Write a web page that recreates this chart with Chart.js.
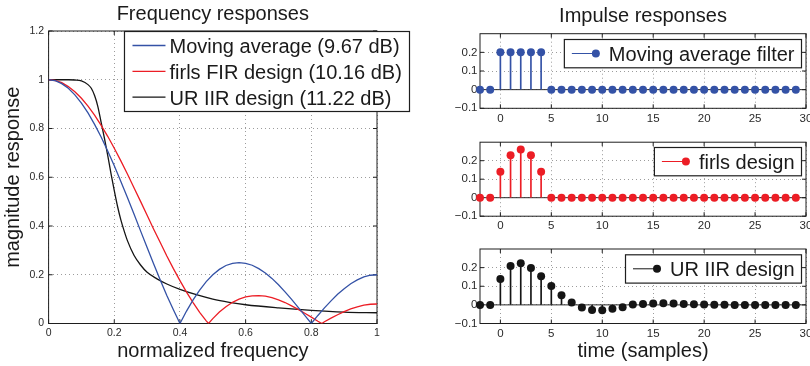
<!DOCTYPE html>
<html>
<head>
<meta charset="utf-8">
<script src="https://cdn.jsdelivr.net/npm/chart.js@4/dist/chart.umd.min.js"></script>
<style>
  html, body { margin: 0; padding: 0; background: #fff; width: 810px; height: 366px; overflow: hidden; }
  canvas { position: absolute; top: 0; }
</style>
</head>
<body>
<canvas id="freq" width="420" height="366" style="left:0px"></canvas>
<canvas id="imp1" width="420" height="366" style="left:410px"></canvas>
<canvas id="imp2" width="420" height="366" style="left:410px"></canvas>
<canvas id="imp3" width="420" height="366" style="left:410px"></canvas>
<script>
// ---- frequency responses (normalized frequency, magnitude) ----
const freqTicks = [0, 0.2, 0.4, 0.6, 0.8, 1];
const magTicks = [0, 0.2, 0.4, 0.6, 0.8, 1, 1.2];

const freqMA = [0, 0.02, 0.04, 0.06, 0.08, 0.1, 0.12, 0.14, 0.16, 0.18, 0.2, 0.22, 0.24, 0.26, 0.28, 0.3,
  0.32, 0.34, 0.36, 0.38, 0.4, 0.42, 0.44, 0.46, 0.48, 0.5, 0.52, 0.54, 0.56, 0.58, 0.6, 0.62, 0.64,
  0.66, 0.68, 0.7, 0.72, 0.74, 0.76, 0.78, 0.8, 0.82, 0.84, 0.86, 0.88, 0.9, 0.92, 0.94, 0.96, 0.98, 1];
const magMA = [1, 0.996, 0.984, 0.965, 0.938, 0.904, 0.864, 0.817, 0.765, 0.708, 0.647, 0.583, 0.517, 0.449,
  0.380, 0.312, 0.244, 0.178, 0.115, 0.056, 0, 0.051, 0.097, 0.137, 0.172, 0.200, 0.222, 0.238, 0.247,
  0.250, 0.247, 0.239, 0.225, 0.207, 0.185, 0.159, 0.130, 0.099, 0.066, 0.033, 0, 0.033, 0.064, 0.093,
  0.120, 0.143, 0.163, 0.179, 0.191, 0.198, 0.200];

const freqLS = [0, 0.02, 0.04, 0.06, 0.08, 0.1, 0.12, 0.14, 0.16, 0.18, 0.2, 0.22, 0.24, 0.26, 0.28, 0.3,
  0.32, 0.34, 0.36, 0.38, 0.4, 0.42, 0.44, 0.46, 0.48, 0.487, 0.5, 0.52, 0.54, 0.56, 0.58, 0.6, 0.62, 0.64,
  0.66, 0.68, 0.7, 0.72, 0.74, 0.76, 0.78, 0.8, 0.82, 0.832, 0.84, 0.86, 0.88, 0.9, 0.92, 0.94, 0.96, 0.98, 1];
const magLS = [1.000, 0.997, 0.988, 0.972, 0.951, 0.924, 0.892, 0.855, 0.813, 0.768, 0.719, 0.667, 0.613,
  0.557, 0.501, 0.444, 0.387, 0.332, 0.277, 0.225, 0.176, 0.129, 0.086, 0.046, 0.011, 0, 0.020, 0.047,
  0.069, 0.087, 0.100, 0.109, 0.113, 0.114, 0.112, 0.106, 0.097, 0.086, 0.072, 0.058, 0.042, 0.026, 0.009,
  0, 0.007, 0.022, 0.036, 0.049, 0.060, 0.068, 0.075, 0.079, 0.080];

const freqIIR = [0, 0.04, 0.06, 0.08, 0.1, 0.12, 0.13, 0.14, 0.15, 0.16, 0.17, 0.18, 0.19, 0.2, 0.21, 0.22,
  0.23, 0.24, 0.26, 0.28, 0.3, 0.33, 0.36, 0.4, 0.45, 0.5, 0.55, 0.6, 0.7, 0.8, 0.9, 1];
const magIIR = [1, 1, 1, 0.999, 0.995, 0.98, 0.965, 0.935, 0.89, 0.825, 0.76, 0.69, 0.615, 0.545, 0.48,
  0.425, 0.38, 0.34, 0.28, 0.24, 0.21, 0.183, 0.162, 0.14, 0.118, 0.1, 0.087, 0.077, 0.064, 0.054, 0.047, 0.044];

// ---- impulse responses (sample index, coefficient) ----
const sampleTicks = [0, 5, 10, 15, 20, 25, 30];
const coefTicks = [-0.1, 0, 0.1, 0.2];
const samples = [-2, -1, 0, 1, 2, 3, 4, 5, 6, 7, 8, 9, 10, 11, 12, 13, 14, 15, 16, 17, 18, 19, 20, 21,
  22, 23, 24, 25, 26, 27, 28, 29];
const hMA = [0, 0, 0.2, 0.2, 0.2, 0.2, 0.2, 0, 0, 0, 0, 0, 0, 0, 0, 0, 0, 0, 0, 0, 0, 0, 0, 0, 0, 0, 0, 0, 0, 0, 0, 0];
const hLS = [0, 0, 0.14, 0.23, 0.26, 0.23, 0.14, 0, 0, 0, 0, 0, 0, 0, 0, 0, 0, 0, 0, 0, 0, 0, 0, 0, 0, 0, 0, 0, 0, 0, 0, 0];
const hIIR = [0, 0, 0.139, 0.209, 0.223, 0.198, 0.154, 0.102, 0.052, 0.0125, -0.014, -0.027, -0.029, -0.021,
  -0.0125, 0.002, 0.005, 0.007, 0.009, 0.007, 0.005, 0.004, 0.002, 0.001, 0.001, 0, 0, 0, 0, 0, 0, 0];

// ---- styling ----
const FAMILY = "'Liberation Sans', Arial, Helvetica, sans-serif";
const BLUE = '#3452a6';
const RED = '#ec1d25';
const BLACK = '#151515';
const TEXT = '#1a1a1a';
const TICK_TEXT = '#2a2a2a';

Chart.defaults.font.family = FAMILY;
Chart.defaults.color = TICK_TEXT;
Chart.defaults.animation = false;

const pairs = (xs, ys) => xs.map((x, i) => ({ x, y: ys[i] }));
const fixTicks = vals => scale => { scale.ticks = vals.map(v => ({ value: v })); };
const fmt1 = v => {
  const s = String(Math.round(Math.abs(v) * 10) / 10);
  return v < 0 ? '\u2212' + s : s;
};

// titles and legends drawn on each axes, keyed by canvas id
const decor = {
  freq: {
    title: 'Frequency responses', titleY: 20,
    legend: {
      items: [
        { text: 'Moving average (9.67 dB)', color: BLUE },
        { text: 'firls FIR design (10.16 dB)', color: RED },
        { text: 'UR IIR design (11.22 dB)', color: BLACK }
      ],
      right: 32.5, top: 0.5, height: 80, first: 14, rowH: 25.8,
      lineStart: 8, lineEnd: 41, textX: 45, padR: 7.7, marker: false
    }
  },
  imp1: {
    title: 'Impulse responses', titleY: 22, baseline: true,
    legend: {
      items: [{ text: 'Moving average filter', color: BLUE }],
      right: -4.5, top: 5.8, height: 28.3, first: 14, rowH: 0,
      lineStart: 7.5, lineEnd: 31.5, textX: 44.5, padR: 7, marker: true
    }
  },
  imp2: {
    baseline: true,
    legend: {
      items: [{ text: 'firls design', color: RED }],
      right: -4.5, top: 5.3, height: 28.3, first: 14, rowH: 0,
      lineStart: 7.5, lineEnd: 31.5, textX: 44.5, padR: 7, marker: true
    }
  },
  imp3: {
    baseline: true,
    legend: {
      items: [{ text: 'UR IIR design', color: BLACK }],
      right: -4.5, top: 5.8, height: 28.3, first: 14, rowH: 0,
      lineStart: 7.5, lineEnd: 31.5, textX: 44.5, padR: 7, marker: true
    }
  }
};

// box around the axes, inward tick marks, stem baseline, title and legend
const axesBox = {
  id: 'axesBox',
  beforeDatasetsDraw(chart) {
    const d = decor[chart.canvas.id];
    const { ctx, chartArea: a, scales: { x, y } } = chart;
    ctx.save();
    if (d.baseline) {
      const y0 = y.getPixelForValue(0);
      ctx.strokeStyle = '#2b2b2b';
      ctx.lineWidth = 1;
      ctx.beginPath();
      ctx.moveTo(a.left, y0);
      ctx.lineTo(a.right, y0);
      ctx.stroke();
    }
    ctx.strokeStyle = '#1e1e1e';
    ctx.lineWidth = 1;
    ctx.strokeRect(a.left, a.top, a.right - a.left, a.bottom - a.top);
    const len = 4;
    ctx.beginPath();
    x.ticks.forEach(t => {
      const px = x.getPixelForValue(t.value);
      ctx.moveTo(px, a.bottom); ctx.lineTo(px, a.bottom - len);
      ctx.moveTo(px, a.top); ctx.lineTo(px, a.top + len);
    });
    y.ticks.forEach(t => {
      const py = y.getPixelForValue(t.value);
      ctx.moveTo(a.left, py); ctx.lineTo(a.left + len, py);
      ctx.moveTo(a.right, py); ctx.lineTo(a.right - len, py);
    });
    ctx.stroke();
    ctx.restore();
  },
  afterDraw(chart) {
    const d = decor[chart.canvas.id];
    const { ctx, chartArea: a } = chart;
    ctx.save();
    ctx.font = '20px ' + FAMILY;
    ctx.fillStyle = TEXT;
    if (d.title) {
      ctx.textAlign = 'center';
      ctx.textBaseline = 'alphabetic';
      ctx.fillText(d.title, (a.left + a.right) / 2, d.titleY);
    }
    const L = d.legend;
    if (L) {
      const w = Math.max(...L.items.map(it => ctx.measureText(it.text).width));
      const right = a.right + L.right;
      const left = right - L.padR - w - L.textX;
      const top = a.top + L.top;
      ctx.fillStyle = '#fff';
      ctx.fillRect(left, top, right - left, L.height);
      ctx.strokeStyle = '#1e1e1e';
      ctx.lineWidth = 1.2;
      ctx.strokeRect(left, top, right - left, L.height);
      L.items.forEach((it, i) => {
        const yy = top + L.first + i * L.rowH;
        ctx.strokeStyle = it.color;
        ctx.lineWidth = L.marker ? 1 : 1.3;
        ctx.beginPath();
        ctx.moveTo(left + L.lineStart, yy);
        ctx.lineTo(left + L.lineEnd, yy);
        ctx.stroke();
        if (L.marker) {
          ctx.fillStyle = it.color;
          ctx.beginPath();
          ctx.arc(left + L.lineEnd, yy, 4, 0, Math.PI * 2);
          ctx.fill();
        }
        ctx.fillStyle = TEXT;
        ctx.textAlign = 'left';
        ctx.textBaseline = 'alphabetic';
        ctx.fillText(it.text, left + L.textX, yy + 7.5);
      });
    }
    ctx.restore();
  }
};

const DOTTED = { display: false, dash: [1, 3] };
const GRID = { color: '#9c9c9c', lineWidth: 1, drawTicks: false };

// ---- left: magnitude responses ----
new Chart(document.getElementById('freq'), {
  type: 'scatter',
  data: {
    datasets: [
      { label: 'Moving average (9.67 dB)', data: pairs(freqMA, magMA), showLine: true, borderColor: BLUE,
        borderWidth: 1.3, pointRadius: 0, tension: 0 },
      { label: 'firls FIR design (10.16 dB)', data: pairs(freqLS, magLS), showLine: true, borderColor: RED,
        borderWidth: 1.3, pointRadius: 0, tension: 0 },
      { label: 'UR IIR design (11.22 dB)', data: pairs(freqIIR, magIIR), showLine: true, borderColor: BLACK,
        borderWidth: 1.3, pointRadius: 0, cubicInterpolationMode: 'monotone' }
    ]
  },
  options: {
    responsive: false,
    layout: { padding: { left: 0, top: 31, right: 43, bottom: 0 } },
    plugins: { legend: { display: false }, tooltip: { enabled: false } },
    scales: {
      x: {
        type: 'linear', min: 0, max: 1, offset: false,
        afterBuildTicks: fixTicks(freqTicks),
        afterFit: s => { s.height = 42.5; },
        grid: GRID, border: DOTTED,
        ticks: { font: { size: 10.5 }, padding: 3.5, maxRotation: 0, autoSkip: false, callback: v => fmt1(v) },
        title: { display: true, text: 'normalized frequency', color: TEXT, font: { size: 20 },
          padding: { top: 0, bottom: 2.6 } }
      },
      y: {
        type: 'linear', min: 0, max: 1.2,
        afterBuildTicks: fixTicks(magTicks),
        afterFit: s => { s.width = 48.6; },
        grid: GRID, border: DOTTED,
        ticks: { font: { size: 10.5 }, padding: 4.5, autoSkip: false, callback: v => fmt1(v) },
        title: { display: true, text: 'magnitude response', color: TEXT, font: { size: 20 },
          padding: { top: 1, bottom: 0 } }
      }
    }
  },
  plugins: [axesBox]
});

// ---- right: impulse responses as stems ----
function stemChart(id, values, color, top, bottom, showXTitle) {
  const xHeight = showXTitle ? 366 - bottom : 22;
  return new Chart(document.getElementById(id), {
    type: 'scatter',
    data: {
      datasets: [
        { data: pairs(samples, values), pointRadius: 4, pointBackgroundColor: color,
          pointBorderColor: color, pointBorderWidth: 0, showLine: false, clip: false },
        { type: 'bar', data: pairs(samples, values), backgroundColor: color, borderWidth: 0,
          barThickness: 1, grouped: false }
      ]
    },
    options: {
      responsive: false,
      layout: { padding: { left: 0, top: top, right: 24, bottom: 366 - bottom - xHeight } },
      plugins: { legend: { display: false }, tooltip: { enabled: false } },
      scales: {
        x: {
          type: 'linear', min: -2, max: 30, offset: false,
          afterBuildTicks: fixTicks(sampleTicks),
          afterFit: s => { s.height = xHeight; },
          grid: { ...GRID, offset: false }, border: DOTTED,
          ticks: { font: { size: 11.5 }, padding: 3.2, maxRotation: 0, autoSkip: false, callback: v => String(v) },
          title: { display: showXTitle, text: 'time (samples)', color: TEXT, font: { size: 20 },
            padding: { top: 0, bottom: 2.6 } }
        },
        y: {
          type: 'linear', min: -0.1, max: 0.3,
          afterBuildTicks: fixTicks(coefTicks),
          afterFit: s => { s.width = 70; },
          grid: GRID, border: DOTTED,
          ticks: { font: { size: 11.5 }, padding: 2.5, autoSkip: false, callback: v => fmt1(v) }
        }
      }
    },
    plugins: [axesBox]
  });
}

stemChart('imp1', hMA, BLUE, 33.7, 108.3, false);
stemChart('imp2', hLS, RED, 142.2, 216.2, false);
stemChart('imp3', hIIR, BLACK, 249, 323.5, true);
</script>
</body>
</html>
